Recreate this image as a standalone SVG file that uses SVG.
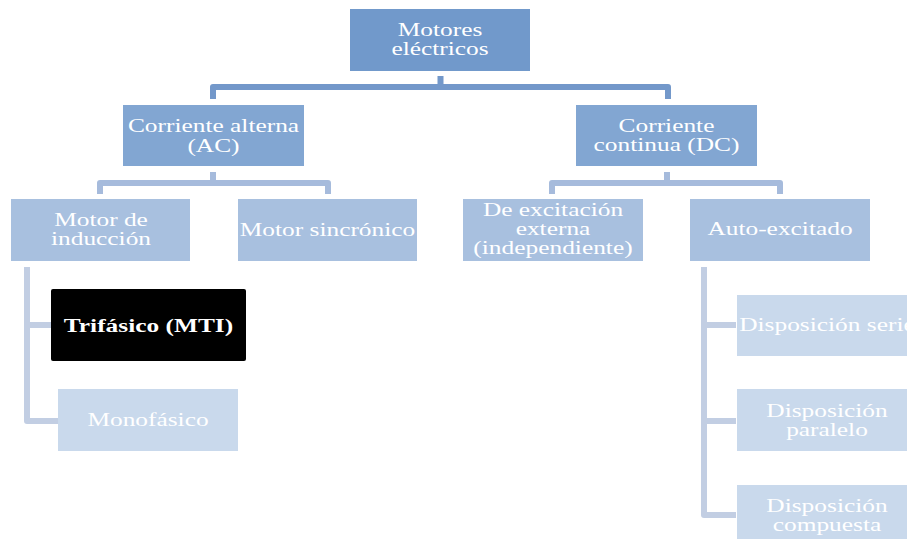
<svg xmlns="http://www.w3.org/2000/svg" width="907" height="539" viewBox="0 0 907 539">
<style>
  .t{font-family:"Liberation Serif","Times New Roman",serif;font-size:18px;fill:#ffffff;text-anchor:middle}
  .b{font-weight:bold}
  .c{fill:none;stroke-linejoin:round;stroke-linecap:butt}
  .l0{fill:#7199CB}
  .l1{fill:#82A6D2}
  .l2{fill:#A8C0DF}
  .l3{fill:#C9D9EC}
</style>
<rect width="907" height="539" fill="#ffffff"/>
<g id="connectors">
  <path class="c" stroke="#7398CA" stroke-width="6" d="M213,99 V87 H668 V99 M440.5,76 V87"/>
  <path class="c" stroke="#A6BBDC" stroke-width="6" d="M100,194 V183 H328 V194 M213,172 V183"/>
  <path class="c" stroke="#A6BBDC" stroke-width="6" d="M552,194 V183 H780 V194 M667,172 V183"/>
  <path class="c" stroke="#C2CEE3" stroke-width="6" d="M27,267 V421 H58 M27,325 H51"/>
  <path class="c" stroke="#C2CEE3" stroke-width="6" d="M704,267 V515 H736 M704,325 H736 M704,421 H736"/>
</g>
<g id="n-motores">
  <rect class="l0" x="350" y="9" width="180" height="62"/>
  <text class="t" transform="translate(440,36) scale(1.41,1)"><tspan x="0" y="0">Motores</tspan><tspan x="0" y="19">eléctricos</tspan></text>
</g>
<g id="n-ac">
  <rect class="l1" x="123" y="105" width="181" height="61"/>
  <text class="t" transform="translate(213.5,132) scale(1.41,1)"><tspan x="0" y="0">Corriente alterna</tspan><tspan x="0" y="20">(AC)</tspan></text>
</g>
<g id="n-dc">
  <rect class="l1" x="576" y="105" width="181" height="61"/>
  <text class="t" transform="translate(666.5,132) scale(1.41,1)"><tspan x="0" y="0">Corriente</tspan><tspan x="0" y="19">continua (DC)</tspan></text>
</g>
<g id="n-induccion">
  <rect class="l2" x="11" y="199" width="179" height="62"/>
  <text class="t" transform="translate(101,226) scale(1.41,1)"><tspan x="0" y="0">Motor de</tspan><tspan x="0" y="19">inducción</tspan></text>
</g>
<g id="n-sincronico">
  <rect class="l2" x="238" y="199" width="179" height="62"/>
  <text class="t" transform="translate(327.5,236) scale(1.41,1)">Motor sincrónico</text>
</g>
<g id="n-externa">
  <rect class="l2" x="463" y="199" width="180" height="62"/>
  <text class="t" transform="translate(553,216) scale(1.41,1)"><tspan x="0" y="0">De excitación</tspan><tspan x="0" y="19">externa</tspan><tspan x="0" y="38">(independiente)</tspan></text>
</g>
<g id="n-auto">
  <rect class="l2" x="690" y="199" width="180" height="62"/>
  <text class="t" transform="translate(780,235) scale(1.41,1)">Auto-excitado</text>
</g>
<g id="n-trifasico">
  <rect x="51" y="289" width="195" height="72" rx="2" fill="#000000"/>
  <text class="t b" transform="translate(148.5,332) scale(1.41,1)">Trifásico (MTI)</text>
</g>
<g id="n-monofasico">
  <rect class="l3" x="58" y="389" width="180" height="62"/>
  <text class="t" transform="translate(148,426) scale(1.41,1)">Monofásico</text>
</g>
<g id="n-serie">
  <rect class="l3" x="737" y="295" width="180" height="61"/>
  <text class="t" transform="translate(827,331) scale(1.41,1)">Disposición serie</text>
</g>
<g id="n-paralelo">
  <rect class="l3" x="737" y="389" width="180" height="62"/>
  <text class="t" transform="translate(827,417) scale(1.41,1)"><tspan x="0" y="0">Disposición</tspan><tspan x="0" y="19">paralelo</tspan></text>
</g>
<g id="n-compuesta">
  <rect class="l3" x="737" y="485" width="180" height="62"/>
  <text class="t" transform="translate(827,512) scale(1.41,1)"><tspan x="0" y="0">Disposición</tspan><tspan x="0" y="19">compuesta</tspan></text>
</g>
</svg>
